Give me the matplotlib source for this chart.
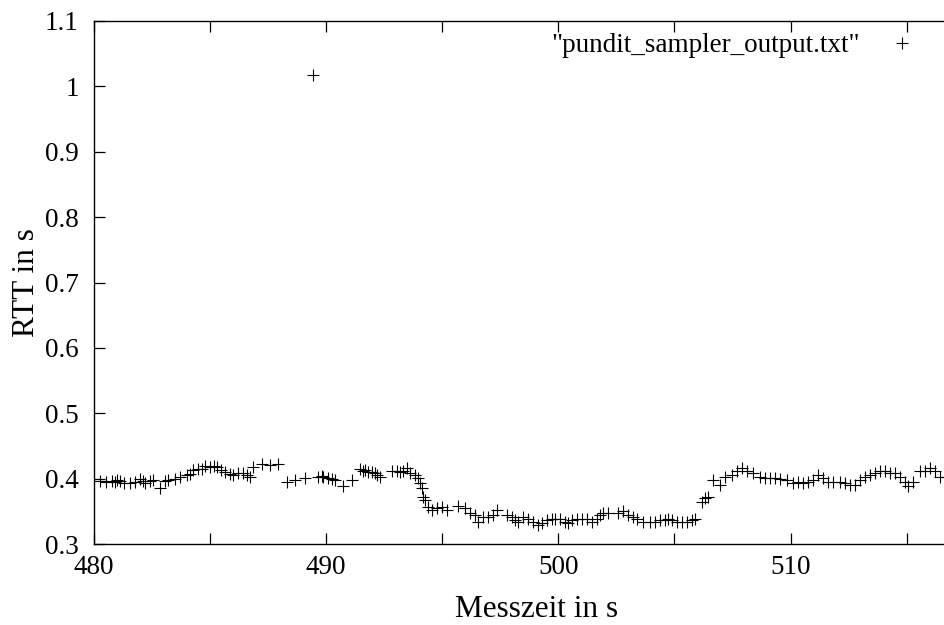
import matplotlib
matplotlib.use("Agg")
import matplotlib.pyplot as plt
import numpy as np

# Messzeit (s) und RTT (s)
zeit = [480.26, 480.50, 480.76, 480.90, 480.98, 481.12, 481.30, 481.55, 481.75, 481.98,
        482.10, 482.20, 482.41, 482.55, 482.84, 483.05, 483.20, 483.49, 483.70, 483.99,
        484.15, 484.28, 484.49, 484.65, 484.78, 484.99, 485.15, 485.28, 485.45, 485.64,
        485.85, 486.00, 486.20, 486.43, 486.60, 486.72, 486.86, 487.22, 487.58, 487.94,
        488.30, 488.66, 489.09, 489.43, 489.66, 489.80, 489.88, 490.09, 490.25, 490.38,
        490.74, 491.10, 491.46, 491.60, 491.67, 491.80, 491.96, 492.10, 492.17, 492.32,
        492.82, 493.03, 493.20, 493.32, 493.47, 493.61, 493.82, 493.97, 494.04, 494.11,
        494.18, 494.25, 494.40, 494.54, 494.76, 494.97, 495.19, 495.69, 495.98, 496.19,
        496.41, 496.55, 496.77, 496.98, 497.20, 497.34, 497.77, 497.99, 498.13, 498.27,
        498.49, 498.71, 498.92, 499.14, 499.28, 499.50, 499.71, 499.85, 500.07, 500.28,
        500.43, 500.57, 500.79, 501.00, 501.22, 501.43, 501.65, 501.79, 501.93, 502.15,
        502.58, 502.79, 503.01, 503.23, 503.37, 503.66, 503.94, 504.16, 504.38, 504.59,
        504.73, 504.88, 505.09, 505.31, 505.52, 505.74, 505.88, 506.17, 506.31, 506.46,
        506.67, 506.96, 507.17, 507.46, 507.68, 507.89, 508.11, 508.39, 508.68, 508.90,
        509.11, 509.33, 509.54, 509.83, 510.12, 510.33, 510.55, 510.76, 510.98, 511.19,
        511.41, 511.62, 511.84, 512.13, 512.34, 512.56, 512.77, 512.99, 513.20, 513.42,
        513.63, 513.85, 514.07, 514.28, 514.50, 514.71, 514.93, 515.07, 515.29, 515.57,
        515.79, 516.00, 516.22, 516.43, 516.65]
rtt = [0.396, 0.395, 0.397, 0.395, 0.398, 0.396, 0.394, 0.394, 0.395, 0.399,
       0.396, 0.394, 0.397, 0.398, 0.385, 0.397, 0.398, 0.399, 0.403, 0.406,
       0.407, 0.413, 0.415, 0.414, 0.420, 0.418, 0.419, 0.418, 0.413, 0.410,
       0.407, 0.406, 0.409, 0.408, 0.405, 0.403, 0.418, 0.423, 0.421, 0.422,
       0.395, 0.398, 0.401, 1.017, 0.403, 0.404, 0.403, 0.401, 0.400, 0.398,
       0.388, 0.398, 0.415, 0.412, 0.413, 0.410, 0.410, 0.408, 0.406, 0.403,
       0.411, 0.411, 0.410, 0.412, 0.416, 0.408, 0.406, 0.401, 0.393, 0.385,
       0.372, 0.367, 0.357, 0.352, 0.355, 0.357, 0.352, 0.358, 0.355, 0.347,
       0.344, 0.334, 0.342, 0.342, 0.344, 0.352, 0.344, 0.342, 0.337, 0.334,
       0.342, 0.339, 0.334, 0.329, 0.332, 0.337, 0.339, 0.339, 0.339, 0.334,
       0.332, 0.337, 0.339, 0.339, 0.339, 0.334, 0.339, 0.344, 0.347, 0.347,
       0.347, 0.350, 0.344, 0.342, 0.339, 0.334, 0.334, 0.334, 0.337, 0.337,
       0.339, 0.337, 0.334, 0.334, 0.333, 0.337, 0.338, 0.365, 0.370, 0.372,
       0.398, 0.390, 0.403, 0.406, 0.411, 0.417, 0.411, 0.409, 0.403, 0.401,
       0.401, 0.401, 0.399, 0.398, 0.394, 0.395, 0.394, 0.395, 0.398, 0.406,
       0.401, 0.395, 0.395, 0.395, 0.393, 0.390, 0.390, 0.398, 0.403, 0.406,
       0.408, 0.411, 0.411, 0.409, 0.409, 0.403, 0.395, 0.388, 0.395, 0.411,
       0.412, 0.416, 0.411, 0.403, 0.402]

xticks = [480, 485, 490, 495, 500, 505, 510, 515]
xlabels = ["480", "", "490", "", "500", "", "510", ""]
yticks = [0.3, 0.4, 0.5, 0.6, 0.7, 0.8, 0.9, 1.0, 1.1]
ylabels = ["0.3", "0.4", "0.5", "0.6", "0.7", "0.8", "0.9", "1", "1.1"]

plt.rcParams['font.family'] = ['Liberation Serif', 'DejaVu Serif']

fig = plt.figure(figsize=(9.45, 6.25), dpi=100)
ax = fig.add_axes([94/945., 81/625., (945-94)/945., 523/625.])

ax.plot(zeit, rtt, linestyle='none', marker='+', color='black',
        markersize=9, markeredgewidth=0.8, clip_on=False,
        label='"pundit_sampler_output.txt"')

ax.set_xlim(480, 516.65)
ax.set_ylim(0.3, 1.1)
ax.set_xticks(xticks)
ax.set_xticklabels(xlabels)
ax.set_yticks(yticks)
ax.set_yticklabels(ylabels)
ax.tick_params(axis='x', direction='in', length=8, width=0.9, top=True,
               labelsize=19.5, pad=8)
ax.tick_params(axis='y', direction='in', length=8, width=0.9, right=False,
               labelsize=19.5, pad=11)
ax.spines['right'].set_visible(False)
for s in ['left', 'top', 'bottom']:
    ax.spines[s].set_linewidth(1.0)

ax.set_xlabel('Messzeit in s', fontsize=22.5)
ax.set_ylabel('RTT in s', fontsize=22.5)
ax.xaxis.set_label_coords(0.52, -0.098)
ax.yaxis.set_label_coords(-0.062, 0.5)

ax.legend(loc='upper right', bbox_to_anchor=(0.969, 0.947),
          bbox_transform=fig.transFigure, frameon=False, markerfirst=False,
          fontsize=19.5, handlelength=1.0, handletextpad=1.05,
          borderpad=0, borderaxespad=0)

plt.savefig('out.png', dpi=100)
